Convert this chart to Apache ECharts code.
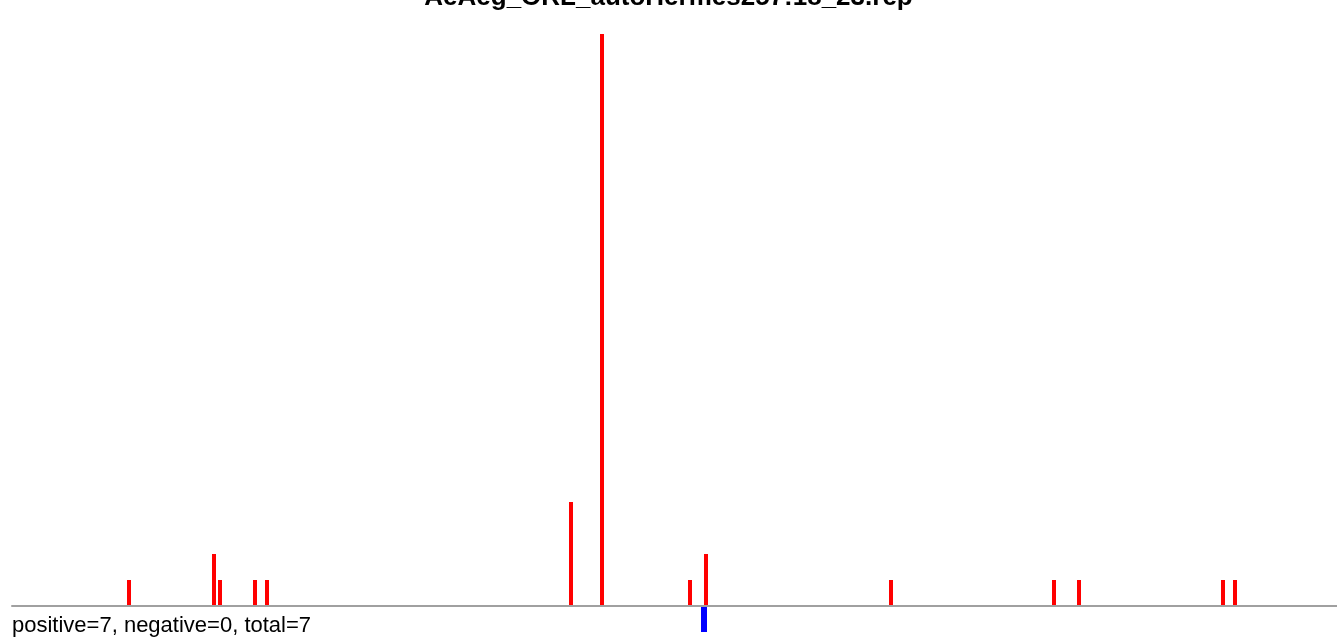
<!DOCTYPE html>
<html>
<head>
<meta charset="utf-8">
<script src="https://cdn.jsdelivr.net/npm/echarts@6/dist/echarts.min.js"></script>
<style>html,body{margin:0;padding:0;background:#fff}#c{width:1337px;height:638px}</style>
</head>
<body>
<div id="c"></div>
<script>
const titleText = "AeAeg_ORL_autoHermes257:18_23.rep";
const summaryText = "positive=7, negative=0, total=7";
// positions along the read and counts
const posPositions = [117, 202, 208, 243, 255, 559, 590, 678, 694, 879, 1042, 1067, 1211, 1223];
const posCounts    = [1,   2,   1,   1,   1,   4,   22,  1,   2,   1,   1,    1,    1,    1];
const negPositions = [692];
const negCounts    = [-1];

const chart = echarts.init(document.getElementById('c'), null, {renderer: 'canvas'});

function makeBar(width, color) {
  return function (params, api) {
    const x = api.value(0), v = api.value(1);
    const p0 = api.coord([x, 0]);
    const p1 = api.coord([x, v]);
    return {
      type: 'rect',
      shape: {x: p0[0] - width / 2, y: Math.min(p0[1], p1[1]), width: width, height: Math.abs(p1[1] - p0[1])},
      style: {fill: color}
    };
  };
}

chart.setOption({
  animation: false,
  grid: {left: 12, right: 0, top: 34, bottom: 6},
  xAxis: {
    type: 'value', min: 0, max: 1325, z: 10,
    axisLine: {show: true, onZero: true, lineStyle: {color: '#a0a0a0', width: 2}},
    axisTick: {show: false}, axisLabel: {show: false}, splitLine: {show: false}
  },
  yAxis: {
    type: 'value', min: -1, max: 22, show: false, splitLine: {show: false}
  },
  series: [
    {type: 'custom', renderItem: makeBar(4, '#ff0000'),
     data: posPositions.map((p, i) => [p, posCounts[i]]), encode: {x: 0, y: 1}},
    {type: 'custom', renderItem: makeBar(6, '#0000ff'),
     data: negPositions.map((p, i) => [p, negCounts[i]]), encode: {x: 0, y: 1}}
  ],
  graphic: [
    {type: 'text', left: 'center', top: -15, z: 100,
     style: {text: titleText, font: 'bold 26px "Liberation Sans", Arial, sans-serif', fill: '#000'}},
    {type: 'text', left: 12, top: 615, z: 100,
     style: {text: summaryText, font: '22px "Liberation Sans", Arial, sans-serif', fill: '#000'}}
  ]
});
</script>
</body>
</html>
